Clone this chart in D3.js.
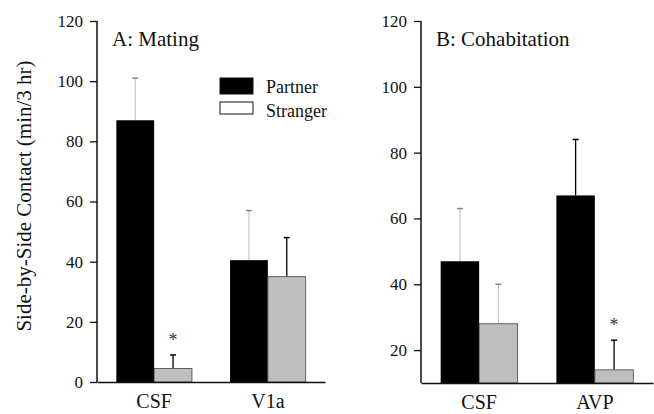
<!DOCTYPE html>
<meta charset="utf-8">
<title>Side-by-side contact</title>
<style>
body { margin: 0; background: #fff; }
text { font-family: "Liberation Serif", "DejaVu Serif", serif; fill: #111; }
</style>
<body>
<script src="https://d3js.org/d3.v7.min.js"></script>
<script>

var seriesNames = ["Partner", "Stranger"];

// panel A: mating
var matingCats = ["CSF", "V1a"];
var matingPartner = [87, 40.5];
var matingPartnerErr = [14, 16.5];
var matingStranger = [4.5, 35];
var matingStrangerErr = [4.5, 13];
var matingSig = [true, false];

// panel B: cohabitation
var cohabCats = ["CSF", "AVP"];
var cohabPartner = [47, 67];
var cohabPartnerErr = [16, 17];
var cohabStranger = [28, 14];
var cohabStrangerErr = [12, 9];
var cohabSig = [false, true];

var ticksA = [0, 20, 40, 60, 80, 100, 120];
var ticksB = [20, 40, 60, 80, 100, 120];

var svg = d3.select("body").append("svg")
    .attr("width", 654)
    .attr("height", 414);

var fills = { Partner: "#000", Stranger: "#bfbfbf" };
// faint error stems as in the scan
var faintStem = { "A-CSF-Partner": true, "A-V1a-Partner": true, "B-CSF-Partner": true, "B-CSF-Stranger": true };

function panel(opt) {
  var g = svg.append("g");
  var y = d3.scaleLinear().domain(opt.domain).range([opt.y0, 21]);
  var x = d3.scaleBand().domain(opt.cats).range([opt.x0, opt.x1])
      .paddingInner(0.335).paddingOuter(0.17);
  var xs = d3.scaleBand().domain(seriesNames).range([0, x.bandwidth()]);

  var rows = [];
  opt.cats.forEach(function(c, i) {
    rows.push({ cat: c, s: "Partner", v: opt.partner[i], e: opt.partnerErr[i], sig: false });
    rows.push({ cat: c, s: "Stranger", v: opt.stranger[i], e: opt.strangerErr[i], sig: opt.sig[i] });
  });

  // error bars (drawn first, upper half only)
  rows.forEach(function(d) {
    var cx = x(d.cat) + xs(d.s) + xs.bandwidth() / 2;
    var faint = faintStem[opt.id + "-" + d.cat + "-" + d.s];
    g.append("line")
      .attr("x1", cx).attr("x2", cx)
      .attr("y1", y(d.v)).attr("y2", y(d.v + d.e))
      .attr("stroke", faint ? "#bbb" : "#000")
      .attr("stroke-width", faint ? 1 : 1.3);
    g.append("line")
      .attr("x1", cx - 3).attr("x2", cx + 3)
      .attr("y1", y(d.v + d.e)).attr("y2", y(d.v + d.e))
      .attr("stroke", faint ? "#888" : "#000")
      .attr("stroke-width", 1.5);
    if (d.sig) {
      g.append("text")
        .attr("x", cx).attr("y", y(d.v + d.e) - 9)
        .attr("text-anchor", "middle")
        .style("font-size", "18px")
        .style("fill", "#333")
        .text("*");
    }
  });

  g.selectAll("rect.bar").data(rows).enter().append("rect")
    .attr("class", "bar")
    .attr("x", function(d) { return x(d.cat) + xs(d.s); })
    .attr("width", xs.bandwidth())
    .attr("y", function(d) { return y(d.v); })
    .attr("height", function(d) { return y(opt.domain[0]) - y(d.v); })
    .attr("fill", function(d) { return fills[d.s]; })
    .attr("stroke", function(d) { return d.s === "Stranger" ? "#444" : "none"; })
    .attr("stroke-width", 0.8);

  // y axis
  var ya = g.append("g")
    .attr("transform", "translate(" + opt.x0 + ",0)")
    .call(d3.axisLeft(y).tickValues(opt.ticks).tickSize(7).tickSizeOuter(0).tickPadding(7));
  ya.select(".domain").attr("stroke", "#111").attr("stroke-width", 1.5)
    .attr("d", "M0," + y(opt.domain[0]) + "V21");
  ya.selectAll(".tick line").attr("stroke", "#111").attr("stroke-width", 1.3);
  ya.selectAll(".tick text").style("font-size", "17px").attr("fill", "#222");

  // x axis
  var xa = g.append("g")
    .attr("transform", "translate(0," + opt.y0 + ")")
    .call(d3.axisBottom(x).tickSize(0).tickPadding(12));
  xa.select(".domain").attr("stroke", "#111").attr("stroke-width", 1.5);
  xa.selectAll(".tick text").style("font-size", "20px").attr("fill", "#111");

  g.append("text")
    .attr("x", opt.x0 + 15).attr("y", 46)
    .style("font-size", "21px")
    .text(opt.title);
}

panel({ id: "A", x0: 97, x1: 325, y0: 382, domain: [0, 120], ticks: ticksA,
  cats: matingCats, partner: matingPartner, partnerErr: matingPartnerErr,
  stranger: matingStranger, strangerErr: matingStrangerErr, sig: matingSig,
  title: "A: Mating" });

panel({ id: "B", x0: 421, x1: 653, y0: 383, domain: [10, 120], ticks: ticksB,
  cats: cohabCats, partner: cohabPartner, partnerErr: cohabPartnerErr,
  stranger: cohabStranger, strangerErr: cohabStrangerErr, sig: cohabSig,
  title: "B: Cohabitation" });

// legend
var leg = svg.append("g").attr("transform", "translate(220,78)");
seriesNames.forEach(function(s, i) {
  leg.append("rect")
    .attr("x", 0).attr("y", i * 24)
    .attr("width", 33).attr("height", i === 0 ? 16 : 12)
    .attr("fill", i === 0 ? "#000" : "#fff")
    .attr("stroke", "#111").attr("stroke-width", 1);
  leg.append("text")
    .attr("x", 46).attr("y", i * 24 + 15)
    .style("font-size", "18px")
    .attr("fill", "#222")
    .text(s);
});

// y label
svg.append("text")
  .attr("transform", "translate(31,196) rotate(-90)")
  .attr("text-anchor", "middle")
  .style("font-size", "21px")
  .text("Side-by-Side Contact (min/3 hr)");

</script>
</body>
